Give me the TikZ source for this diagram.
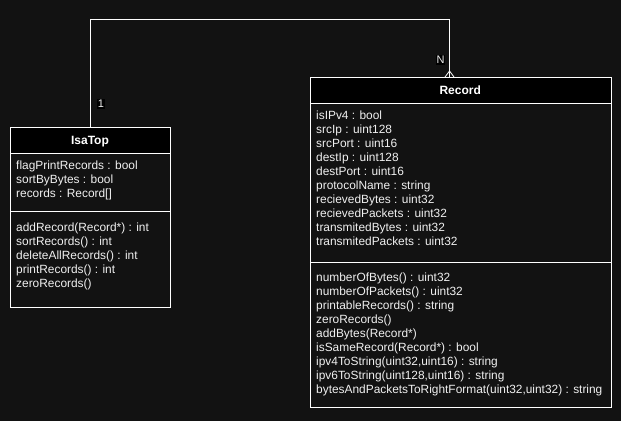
\documentclass[tikz,border=0pt]{standalone}
\usepackage{fontspec}
\setmainfont{Liberation Sans}
\definecolor{bg}{RGB}{18,18,18}
\definecolor{fg}{RGB}{240,240,240}
\tikzset{
  hdr/.style={draw=white, fill=black, line width=1pt, rectangle, inner sep=0pt, anchor=north west},
  title/.style={anchor=base, inner sep=0pt, text=white, font=\fontsize{12}{14}\selectfont\bfseries},
  part/.style={draw=white, fill=bg, line width=1pt, rectangle, inner sep=0pt, anchor=north west},
  row/.style={anchor=base west, inner sep=0pt, text=fg, font=\fontsize{11.9}{14}\selectfont},
  mult/.style={fill=black, inner sep=1pt, text=fg, font=\fontsize{11}{13}\selectfont},
  conn/.style={draw=white, line width=1pt}
}
\begin{document}
\begin{tikzpicture}[x=1pt,y=-1pt]
\fill[bg] (0,0) rectangle (621,421);
\useasboundingbox (0,0) rectangle (621,421);
% IsaTop
\node[hdr, minimum width=160pt, minimum height=26pt] (isahdr) at (10,127) {};
\node[part, minimum width=160pt, minimum height=58pt] (isaattr) at (10,153) {};
\node[part, minimum width=160pt, minimum height=96pt] (isameth) at (10,211) {};
\node[title] (isatitle) at (90,144.5) {IsaTop};
\foreach \t [count=\i] in {flagPrintRecords : bool, sortByBytes : bool, records : Record[]}
  \node[row] (isaa\i) at (16,{169.5+14*(\i-1)}) {\t};
\foreach \t [count=\i] in {addRecord(Record*) : int, sortRecords() : int, deleteAllRecords() : int, printRecords() : int, zeroRecords()}
  \node[row] (isam\i) at (16,{231.5+14*(\i-1)}) {\t};
% Record
\node[hdr, minimum width=300.5pt, minimum height=26pt] (rechdr) at (310,77) {};
\node[part, minimum width=300.5pt, minimum height=158.7pt] (recattr) at (310,103) {};
\node[part, minimum width=300.5pt, minimum height=145pt] (recmeth) at (310,261.7) {};
\node[title] (rectitle) at (460.25,94.5) {Record};
\foreach \t [count=\i] in {isIPv4 : bool, srcIp : uint128, srcPort : uint16, destIp : uint128, destPort : uint16, protocolName : string, recievedBytes : uint32, recievedPackets : uint32, transmitedBytes : uint32, transmitedPackets : uint32}
  \node[row] (reca\i) at (316,{119.5+14*(\i-1)}) {\t};
\foreach \t [count=\i] in {numberOfBytes() : uint32, numberOfPackets() : uint32, printableRecords() : string, zeroRecords(), addBytes(Record*), isSameRecord(Record*) : bool, {ipv4ToString(uint32,uint16) : string}, {ipv6ToString(uint128,uint16) : string}, {bytesAndPacketsToRightFormat(uint32,uint32) : string}}
  \node[row] (recm\i) at (316,{281.5+14*(\i-1)}) {\t};
% connector
\coordinate (bendA) at (90.5,19.5);
\coordinate (bendB) at (449.5,19.5);
\coordinate (recin) at (449.5,77);
\coordinate (crow) at (449.5,71);
\draw[conn] (isahdr.north -| bendA) -- (bendA) -- (bendB) -- (recin);
\draw[conn, line width=0.8pt] (crow) -- (recin -| 445,0) (crow) -- (recin -| 454,0);
\node[mult] (one) at (101,104) {1};
\node[mult] (many) at (440.5,60) {N};
\end{tikzpicture}
\end{document}
